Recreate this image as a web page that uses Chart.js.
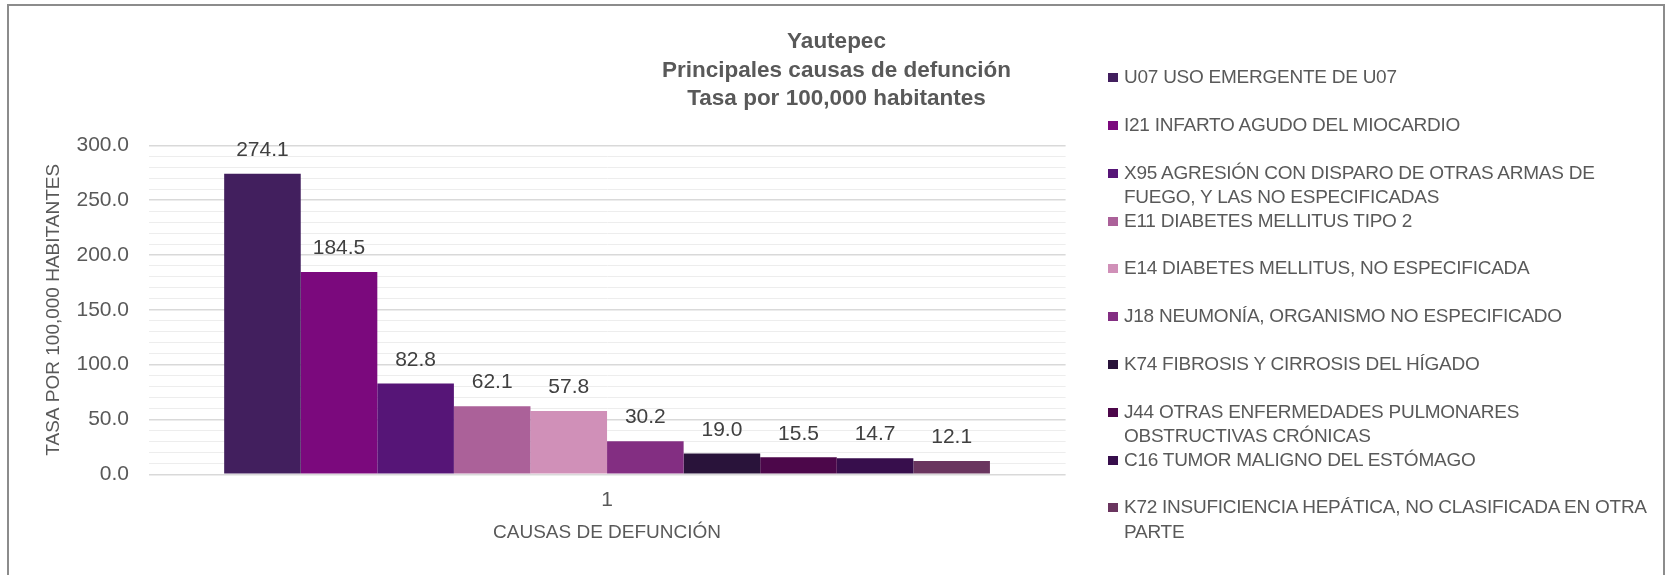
<!DOCTYPE html>
<html lang="es">
<head>
<meta charset="utf-8">
<title>Yautepec - Principales causas de defunción</title>
<script src="https://cdn.jsdelivr.net/npm/chart.js@4.4.1/dist/chart.umd.min.js"></script>
<style>
  html, body { margin: 0; padding: 0; background: #ffffff; overflow: hidden; }
  #wrap { position: relative; width: 1667px; height: 575px; }
  #causasChart { position: absolute; left: 0; top: 0; }
  #frame {
    position: absolute; left: 7px; top: 4px; width: 1658px; height: 700px;
    box-sizing: border-box; border: 2px solid #8c8c8c; border-bottom: none;
    pointer-events: none;
  }
  #customLegend {
    position: absolute; left: 1108px; top: 65.3px;
    font-family: 'Liberation Sans', Arial, sans-serif; font-size: 19px; color: #595959;
    letter-spacing: -0.25px;
  }
  .legend-row { position: relative; height: 47.8px; padding-left: 16px; line-height: 24.5px; white-space: nowrap; }
  .legend-box { position: absolute; left: 0; top: 8px; width: 10px; height: 9px; }
</style>
</head>
<body>
<div id="wrap">
  <canvas id="causasChart" width="1667" height="575"></canvas>
  <div id="customLegend"></div>
  <div id="frame"></div>
</div>
<script>
// Excel-style chart: one category, one dataset per cause
const categoryLabels = ['1'];

// legend text, already split the way the original wraps it
const causeLabels = [
    ['U07 USO EMERGENTE DE U07'],
    ['I21 INFARTO AGUDO DEL MIOCARDIO'],
    ['X95 AGRESIÓN CON DISPARO DE OTRAS ARMAS DE', 'FUEGO, Y LAS NO ESPECIFICADAS'],
    ['E11 DIABETES MELLITUS TIPO 2'],
    ['E14 DIABETES MELLITUS, NO ESPECIFICADA'],
    ['J18 NEUMONÍA, ORGANISMO NO ESPECIFICADO'],
    ['K74 FIBROSIS Y CIRROSIS DEL HÍGADO'],
    ['J44 OTRAS ENFERMEDADES PULMONARES', 'OBSTRUCTIVAS CRÓNICAS'],
    ['C16 TUMOR MALIGNO DEL ESTÓMAGO'],
    ['K72 INSUFICIENCIA HEPÁTICA, NO CLASIFICADA EN OTRA', 'PARTE']
];

const rateValues = [274.1, 184.5, 82.8, 62.1, 57.8, 30.2, 19.0, 15.5, 14.7, 12.1];

const barColors = ['#421f5e', '#7b097d', '#561577', '#ab6199', '#d090b8',
                   '#832e82', '#29133a', '#4c074a', '#370e4c', '#6a355f'];

const yMin = 0;
const yMax = 300;
const yStep = 10;      // minor gridlines
const yLabelStep = 50; // labelled / major gridlines

const FONT = "'Liberation Sans', Arial, sans-serif";

let causasChart;

document.addEventListener('DOMContentLoaded', function () {
    buildLegend();
    const ctx = document.getElementById('causasChart').getContext('2d');
    createCausasChart(ctx);
});

function buildLegend() {
    const legend = document.getElementById('customLegend');
    legend.innerHTML = '';
    causeLabels.forEach((lines, i) => {
        legend.innerHTML += `
          <div class="legend-row">
            <div class="legend-box" style="background-color: ${barColors[i]};"></div>
            ${lines.join('<br>')}
          </div>`;
    });
}

// value above each bar
const valueLabels = {
    id: 'valueLabels',
    afterDatasetsDraw(chart) {
        const ctx = chart.ctx;
        ctx.save();
        ctx.font = '21px ' + FONT;
        ctx.fillStyle = '#404040';
        ctx.textAlign = 'center';
        ctx.textBaseline = 'middle';
        chart.data.datasets.forEach((ds, i) => {
            const bar = chart.getDatasetMeta(i).data[0];
            ctx.fillText(ds.data[0].toFixed(1), bar.x, bar.y - 23.5);
        });
        ctx.restore();
    }
};

function createCausasChart(context) {
    causasChart = new Chart(context, {
        type: 'bar',
        data: {
            labels: categoryLabels,
            datasets: causeLabels.map((lines, i) => ({
                label: lines.join(' '),
                data: [rateValues[i]],
                backgroundColor: barColors[i],
                borderWidth: 0,
                categoryPercentage: 0.835,
                barPercentage: 1.0
            }))
        },
        options: {
            responsive: false,
            animation: false,
            layout: { padding: { left: 6, right: 0, top: 0, bottom: 0 } },
            plugins: {
                legend: { display: false },
                tooltip: { enabled: false },
                title: {
                    display: true,
                    text: ['Yautepec', 'Principales causas de defunción', 'Tasa por 100,000 habitantes'],
                    color: '#595959',
                    font: { family: FONT, size: 22.5, weight: 'bold', lineHeight: 1.2756 },
                    padding: { top: 27.35, bottom: 31.85 }
                }
            },
            scales: {
                x: {
                    afterFit: function (scale) { scale.height = 100.7; },
                    grid: { display: false, drawTicks: false },
                    border: { display: false },
                    ticks: { color: '#595959', padding: 14.4, font: { family: FONT, size: 21, lineHeight: 1.143 } },
                    title: {
                        display: true,
                        text: 'CAUSAS DE DEFUNCIÓN',
                        color: '#595959',
                        font: { family: FONT, size: 19 },
                        padding: { top: 8.2, bottom: 31.3 }
                    }
                },
                y: {
                    min: yMin,
                    max: yMax,
                    afterFit: function (scale) { scale.width = 142.5; },
                    ticks: {
                        stepSize: yStep,
                        autoSkip: false,
                        padding: 19.5,
                        color: '#595959',
                        font: { family: FONT, size: 21 },
                        callback: function (value) {
                            return value % yLabelStep === 0 ? value.toFixed(1) : '';
                        }
                    },
                    grid: {
                        drawTicks: false,
                        color: c => (c.tick && c.tick.value % yLabelStep === 0) ? '#d9d9d9' : '#ededed',
                        lineWidth: c => (c.tick && c.tick.value % yLabelStep === 0) ? 1.5 : 1
                    },
                    border: { display: false },
                    title: {
                        display: true,
                        text: 'TASA POR 100,000 HABITANTES',
                        color: '#595959',
                        font: { family: FONT, size: 19 },
                        padding: { top: 36.2, bottom: 0 }
                    }
                },
                // empty right-hand box: keeps room for the legend
                legendSpace: {
                    type: 'linear',
                    position: 'right',
                    display: true,
                    grid: { display: false },
                    border: { display: false },
                    ticks: { display: false },
                    afterFit: function (scale) { scale.width = 601.4; }
                }
            }
        },
        plugins: [valueLabels]
    });
}
</script>
</body>
</html>
